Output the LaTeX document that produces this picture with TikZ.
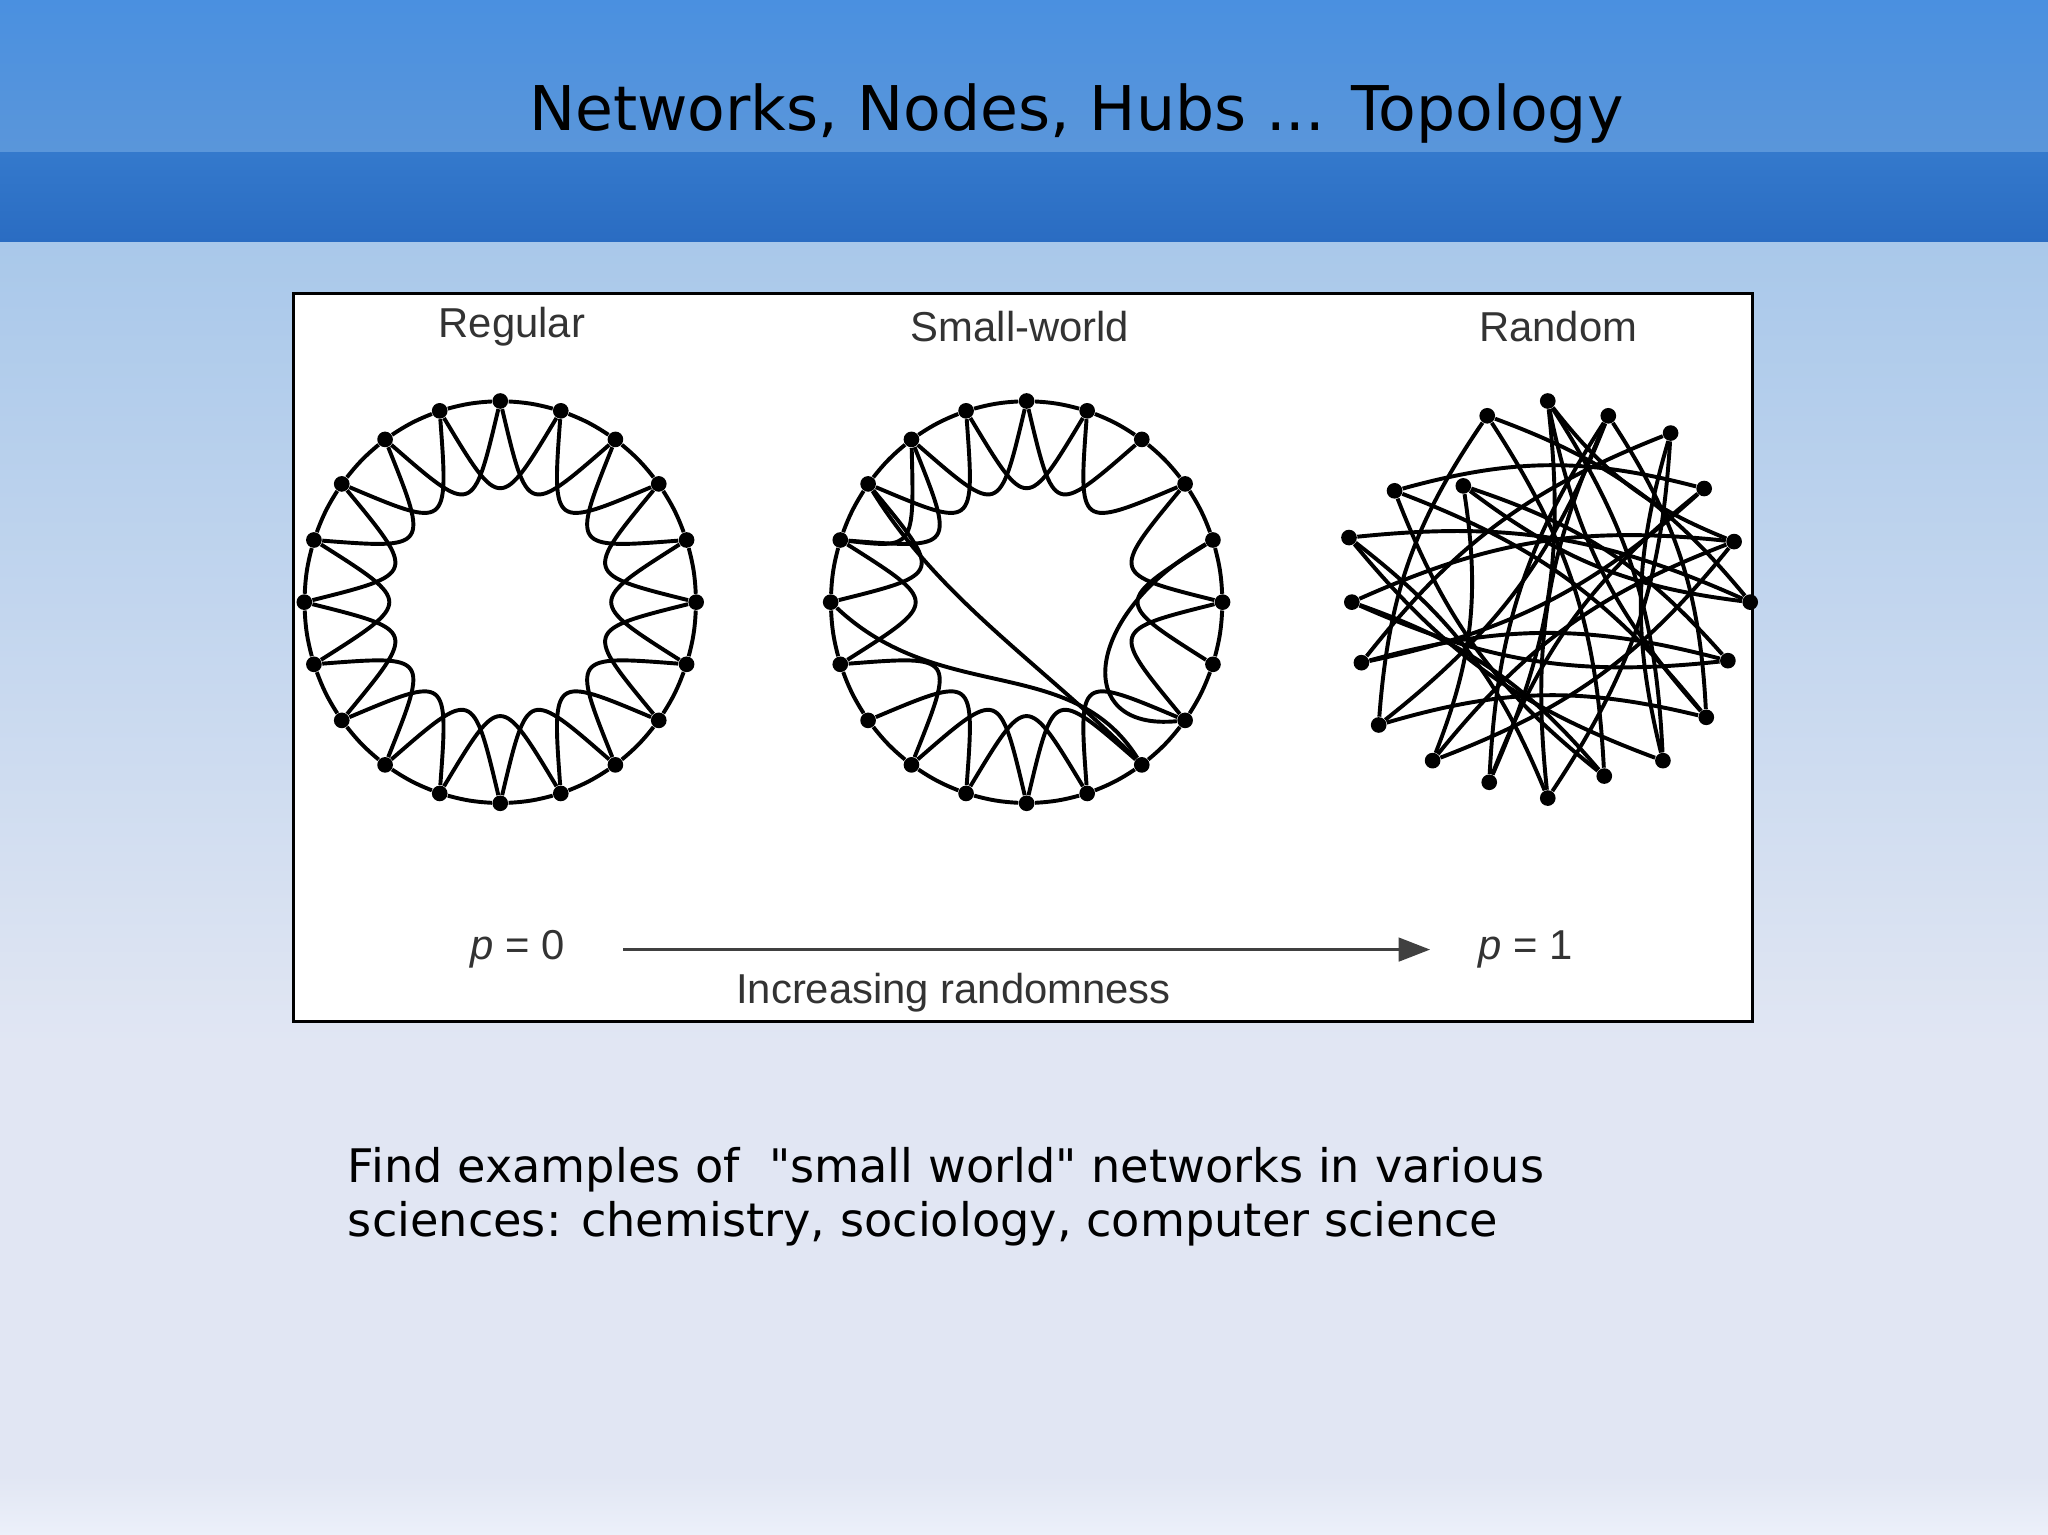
\documentclass[tikz,border=0pt]{standalone}
\usepackage{fontspec}
\setmainfont{DejaVu Sans}[Ligatures=TeXOff]
\newfontfamily\lab{Liberation Sans}
\usetikzlibrary{calc,arrows.meta}
\definecolor{hdA}{HTML}{4A90E0}
\definecolor{hdB}{HTML}{5A96DA}
\definecolor{hdC}{HTML}{3479CC}
\definecolor{hdD}{HTML}{2A6CC2}
\definecolor{bgA}{HTML}{A9C8EA}
\definecolor{bgB}{HTML}{E1E6F3}
\definecolor{bgC}{HTML}{ECF0FA}
\tikzset{
 dot/.style={circle,fill=black,inner sep=0pt,minimum size=6pt},
 edge/.style={line width=1.5pt,black},
 lbl/.style={font=\lab\fontsize{16}{19}\selectfont,text=black!80},
}
\begin{document}
\begin{tikzpicture}[x=0.5pt,y=-0.5pt]
\useasboundingbox (0,0) rectangle (1568,1175);
% background
\shade[top color=bgA,bottom color=bgB] (0,185) rectangle (1568,800);
\fill[bgB] (0,800) rectangle (1568,1130);
\shade[top color=bgB,bottom color=bgC] (0,1130) rectangle (1568,1175);
\shade[top color=hdA,bottom color=hdB] (0,0) rectangle (1568,117);
\shade[top color=hdC,bottom color=hdD] (0,117) rectangle (1568,185);
\node[font=\fontsize{23.6}{28}\selectfont] (title) at (824,87) {Networks, Nodes, Hubs ... Topology};
% picture frame
\draw[fill=white,line width=1.2pt] (225,225) rectangle (1342,782);
\node[lbl] (t1) at (392,250) {Regular};
\node[lbl] (t2) at (781,250) {Small-world};
\node[lbl] (t3) at (1193,250) {Random};
% centres
\coordinate (rc) at (383,461);
\coordinate (sc) at (786,461);
\coordinate (qc) at (1185,461);
\foreach \i in {0,...,19}{
  \pgfmathsetmacro\a{-90-18*\i}
  \node[dot] (r\i) at ($(rc)+(\a:{150} and {154})$) {};
  \node[dot] (s\i) at ($(sc)+(\a:{150} and {154})$) {};
}
% random nodes with jitter
\foreach \i/\rr in {0/154,1/150,2/110,3/145,4/160,5/150,6/150,7/160,8/150,9/145,10/150,11/140,12/150,13/150,14/145,15/155,16/150,17/148,18/160,19/150}{
  \pgfmathsetmacro\a{-90-18*\i}
  \node[dot] (q\i) at ($(qc)+(\a:{\rr})$) {};
}
% regular ring
\foreach \i in {0,...,19}{
  \pgfmathtruncatemacro\j{mod(\i+1,20)}
  \pgfmathtruncatemacro\k{mod(\i+2,20)}
  \draw[edge] (r\i) to[bend right=6] (r\j);
  \draw[edge] (r\i) .. controls ($(rc)!0.45!(r\j)$) .. (r\k);
}
% small world ring
\foreach \i in {0,...,19}{
  \pgfmathtruncatemacro\j{mod(\i+1,20)}
  \draw[edge] (s\i) to[bend right=6] (s\j);
}
\foreach \i in {0,1,2,3,4,6,7,8,9,10,11,13,14,15,17,18,19}{
  \pgfmathtruncatemacro\j{mod(\i+1,20)}
  \pgfmathtruncatemacro\k{mod(\i+2,20)}
  \draw[edge] (s\i) .. controls ($(sc)!0.45!(s\j)$) .. (s\k);
}
\draw[edge] (s5) .. controls (720,540) and (820,500) .. (s12);
\draw[edge] (s3) .. controls (720,460) and (800,510) .. (s12);
\draw[edge] (s16) .. controls (830,470) and (820,560) .. (s13);
\draw[edge] (s4) .. controls (700,420) .. (s2);
% random chords
\foreach \i/\j in {0/9,0/12,1/11,2/14,2/8,3/13,3/17,4/10,4/15,5/16,5/11,6/14,6/18,7/13,7/1,8/16,9/17,10/19,11/3,12/18,13/0,14/5,15/2,16/8,17/6,18/10,19/7,19/13,1/15,12/4,9/19,16/0}{
  \draw[edge] (q\i) to[bend left=15] (q\j);
}
% bottom labels
\node[lbl] (p0) at (396,727) {\textit{p} = 0};
\node[lbl] (p1) at (1168,727) {\textit{p} = 1};
\coordinate (a0) at ($(p0.east)+(38,0)$);
\coordinate (a1) at ($(p1.west)+(-30,0)$);
\draw[line width=1.1pt,black!75,-{Triangle[length=12pt,width=9pt]}] (a0) -- (a1);
\node[lbl] (inc) at (730,760) {Increasing randomness};
% body text
\node[anchor=base west,align=left,font=\fontsize{17.7}{21}\selectfont,inner sep=0pt] (body) at (266,947)
 {Find examples of \ "small world" networks in various\\sciences: chemistry, sociology, computer science};
\end{tikzpicture}
\end{document}
